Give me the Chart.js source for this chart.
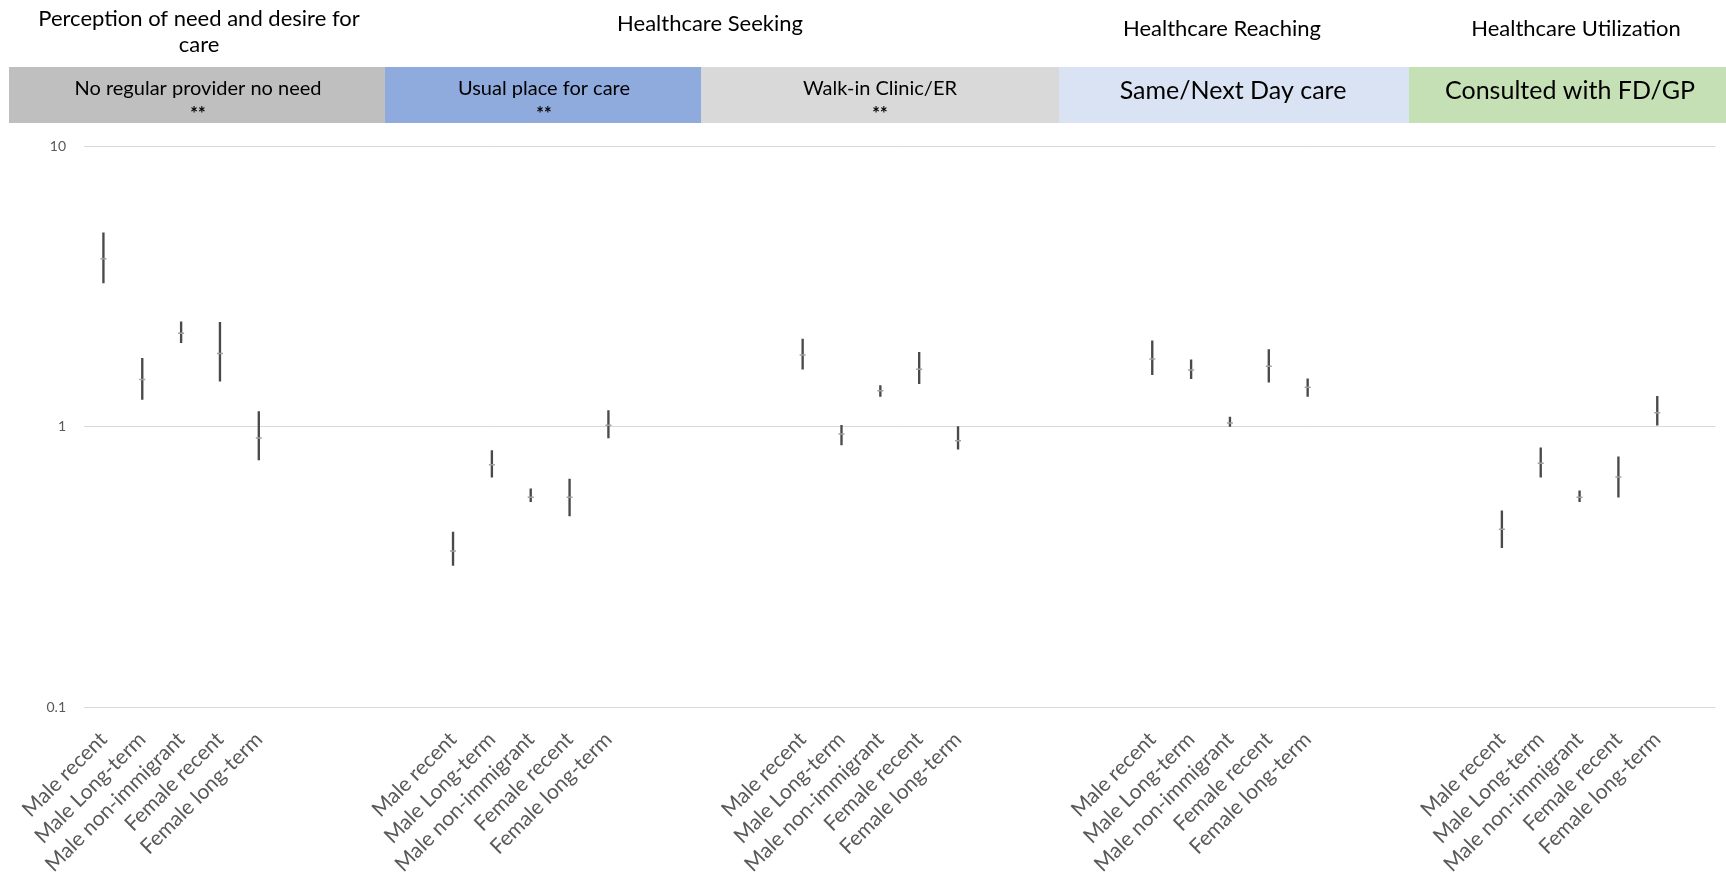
<!DOCTYPE html>
<html>
<head>
<meta charset="utf-8">
<script src="https://cdn.jsdelivr.net/npm/chart.js@4/dist/chart.umd.min.js"></script>
<style>
  body { margin: 0; background: #fff; }
  #chart { display: block; }
</style>
</head>
<body>
<canvas id="chart" width="1726" height="877"></canvas>
<script>
// Data (odds ratios with 95% CI)
const categories = ["Male recent", "Male Long-term", "Male non-immigrant", "Female recent", "Female long-term"];
const gapSlots = 4;

const oddsRatio = [
  3.96, 1.47, 2.15, 1.82, 0.91,   // no regular provider
  0.36, 0.73, 0.56, 0.56, 1.01,   // usual place
  1.80, 0.94, 1.34, 1.60, 0.89,   // walk-in / ER
  1.74, 1.59, 1.03, 1.64, 1.38,   // same/next day
  0.43, 0.74, 0.56, 0.66, 1.12    // FD/GP
];
const ciLow = [
  3.25, 1.25, 1.99, 1.45, 0.76,
  0.32, 0.66, 0.54, 0.48, 0.91,
  1.60, 0.86, 1.28, 1.42, 0.83,
  1.53, 1.48, 1.00, 1.44, 1.28,
  0.37, 0.66, 0.54, 0.56, 1.01
];
const ciHigh = [
  4.90, 1.75, 2.36, 2.35, 1.13,
  0.42, 0.82, 0.60, 0.65, 1.14,
  2.05, 1.01, 1.40, 1.84, 1.00,
  2.02, 1.73, 1.08, 1.88, 1.48,
  0.50, 0.84, 0.59, 0.78, 1.28
];
const yTicks = [0.1, 1, 10];

const domainTitles = [["Perception of need and desire for", "care"], ["Healthcare Seeking"], ["Healthcare Reaching"], ["Healthcare Utilization"]];
const measureNames = ["No regular provider no need", "Usual place for care", "Walk-in Clinic/ER", "Same/Next Day care", "Consulted with FD/GP"];
const measureMarks = ["**", "**", "**", "", ""];

// header layout (pixels)
const domainPos = [{ x: 199, y: [19, 45] }, { x: 710, y: [24] }, { x: 1222, y: [29] }, { x: 1576, y: [29] }];
const boxEdges = [9, 385, 701, 1059, 1409, 1726];
const boxColors = ["#bfbfbf", "#8faadc", "#d9d9d9", "#dae3f3", "#c5e0b4"];
const boxTop = 67, boxBottom = 123;
const boxText = [
  { x: 198, y: 89, size: 20 }, { x: 544, y: 89, size: 20 }, { x: 880, y: 89, size: 20 },
  { x: 1233, y: 91, size: 25 }, { x: 1570, y: 91, size: 25 }
];

// build category slots: gaps between groups, one spare slot at the end
const labels = [], points = [], bars = [];
const nGroups = oddsRatio.length / categories.length;
for (let g = 0; g < nGroups; g++) {
  categories.forEach((c, i) => {
    const k = g * categories.length + i;
    labels.push(c);
    points.push(oddsRatio[k]);
    bars.push([ciLow[k], ciHigh[k]]);
  });
  const blanks = g < nGroups - 1 ? gapSlots : 1;
  for (let s = 0; s < blanks; s++) { labels.push(""); points.push(null); bars.push(null); }
}

const headerPlugin = {
  id: "headers",
  beforeDraw(chart) {
    const ctx = chart.ctx;
    ctx.save();
    ctx.textAlign = "center";
    ctx.textBaseline = "middle";
    ctx.fillStyle = "#000";
    ctx.font = "22px Lato";
    domainTitles.forEach((lines, i) => {
      lines.forEach((t, j) => ctx.fillText(t, domainPos[i].x, domainPos[i].y[j]));
    });
    boxColors.forEach((col, i) => {
      ctx.fillStyle = col;
      ctx.fillRect(boxEdges[i], boxTop, boxEdges[i + 1] - boxEdges[i], boxBottom - boxTop);
    });
    ctx.fillStyle = "#000";
    measureNames.forEach((t, i) => {
      ctx.font = boxText[i].size + "px Lato";
      ctx.fillText(t, boxText[i].x, boxText[i].y);
      if (measureMarks[i]) {
        ctx.font = "bold 18px Lato";
        ctx.fillText(measureMarks[i], boxText[i].x, boxText[i].y + 25);
      }
    });
    ctx.restore();
  }
};

new Chart(document.getElementById("chart"), {
  data: {
    labels: labels,
    datasets: [
      {
        type: "line",
        data: points,
        showLine: false,
        pointStyle: "line",
        pointRadius: 3,
        pointBorderWidth: 1.5,
        borderColor: "#a0a0a0",
        order: 0
      },
      {
        type: "bar",
        data: bars,
        barThickness: 1.7,
        backgroundColor: "#4a4a4a",
        borderWidth: 0,
        order: 1
      }
    ]
  },
  options: {
    responsive: false,
    animation: false,
    layout: { padding: { top: 146, right: 6, left: 0, bottom: 0 } },
    plugins: { legend: { display: false }, tooltip: { enabled: false } },
    scales: {
      x: {
        type: "category",
        offset: true,
        grid: { display: false },
        border: { display: false },
        ticks: {
          autoSkip: false,
          minRotation: 45,
          maxRotation: 45,
          padding: 12,
          color: "#595959",
          font: { family: "Lato", size: 21 }
        },
        afterFit(scale) { scale.height = 170; }
      },
      y: {
        type: "logarithmic",
        min: 0.1,
        max: 10,
        afterBuildTicks(scale) { scale.ticks = yTicks.map(v => ({ value: v })); },
        grid: { color: "#d9d9d9", lineWidth: 1, drawTicks: false },
        border: { display: false },
        ticks: {
          padding: 18,
          color: "#595959",
          font: { family: "Lato", size: 14 },
          callback: v => String(v)
        },
        afterFit(scale) { scale.width = 84; }
      }
    }
  },
  plugins: [headerPlugin]
});
</script>
</body>
</html>
